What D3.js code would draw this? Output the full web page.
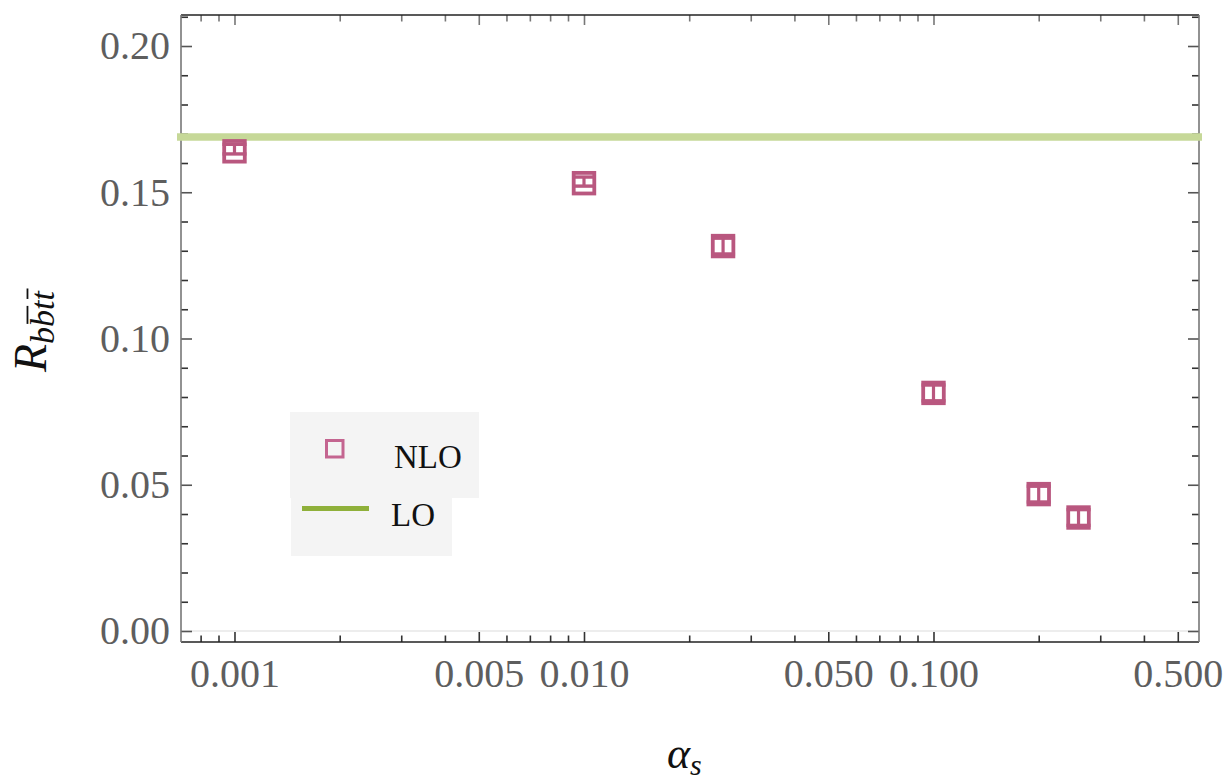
<!DOCTYPE html>
<html>
<head>
<meta charset="utf-8">
<script src="https://cdn.jsdelivr.net/npm/d3@7"></script>
<style>
  body { margin: 0; background: #fff; }
  svg { display: block; }
</style>
</head>
<body>
<svg id="chart" width="1231" height="781"></svg>
<script>
// ---- data ----
const alphaS   = [0.001, 0.010, 0.025, 0.100, 0.200, 0.260];
const rNLO     = [0.1640, 0.1531, 0.1316, 0.0814, 0.0468, 0.0388];
const rNLOhi   = [0.1664, 0.1552, 0.1343, 0.0841, 0.0495, 0.0415];
const rNLOlo   = [0.1631, 0.1521, 0.1289, 0.0787, 0.0441, 0.0361];
const rLO      = 0.1689;
const xMajorTicks = [0.001, 0.005, 0.010, 0.050, 0.100, 0.500];
const xMajorLabels = ["0.001", "0.005", "0.010", "0.050", "0.100", "0.500"];
const xMinorTicks = [0.0008, 0.0009, 0.002, 0.003, 0.004, 0.006, 0.007, 0.008, 0.009,
                     0.02, 0.03, 0.04, 0.06, 0.07, 0.08, 0.09, 0.2, 0.3, 0.4];
const yMajorTicks = [0.00, 0.05, 0.10, 0.15, 0.20];
const yMajorLabels = ["0.00", "0.05", "0.10", "0.15", "0.20"];
const yMinorTicks = [0.01, 0.02, 0.03, 0.04, 0.06, 0.07, 0.08, 0.09, 0.11, 0.12, 0.13, 0.14,
                     0.16, 0.17, 0.18, 0.19, 0.21];
const legendLabels = ["NLO", "LO"];

// ---- layout ----
const L = 181, R = 1199, T = 15, B = 642;
const svg = d3.select("#chart");
const x = d3.scaleLog().domain([7.03e-4, 0.575]).range([L, R]);
const y = d3.scaleLinear().domain([-0.00376, 0.2106]).range([B, T]);

const pink = "#b9577f";
const serif = "'Liberation Serif', 'DejaVu Serif', serif";

// zero gridline
svg.append("line").attr("x1", L).attr("x2", R).attr("y1", y(0)).attr("y2", y(0))
  .attr("stroke", "#dcdcdc").attr("stroke-width", 1.2);

function styleAxis(g, col) {
  g.select(".domain").remove();
  g.selectAll(".tick line").attr("stroke", col).attr("stroke-width", 1.6);
  g.selectAll(".tick text").attr("fill", "#5e5e5e").attr("font-family", serif).attr("font-size", 40);
}
// bottom
const gB = svg.append("g").attr("transform", `translate(0,${B})`)
  .call(d3.axisBottom(x).tickValues(xMajorTicks).tickFormat((d, i) => xMajorLabels[i]).tickSize(-10).tickPadding(17));
styleAxis(gB, "#333");
const gBm = svg.append("g").attr("transform", `translate(0,${B})`)
  .call(d3.axisBottom(x).tickValues(xMinorTicks).tickFormat("").tickSize(-6.5));
styleAxis(gBm, "#333");
// top
const gT = svg.append("g").attr("transform", `translate(0,${T})`)
  .call(d3.axisTop(x).tickValues(xMajorTicks).tickFormat("").tickSize(-10));
styleAxis(gT, "#777");
const gTm = svg.append("g").attr("transform", `translate(0,${T})`)
  .call(d3.axisTop(x).tickValues(xMinorTicks).tickFormat("").tickSize(-6.5));
styleAxis(gTm, "#777");
// left
const gL = svg.append("g").attr("transform", `translate(${L},0)`)
  .call(d3.axisLeft(y).tickValues(yMajorTicks).tickFormat((d, i) => yMajorLabels[i]).tickSize(-11).tickPadding(11));
styleAxis(gL, "#555");
const gLm = svg.append("g").attr("transform", `translate(${L},0)`)
  .call(d3.axisLeft(y).tickValues(yMinorTicks).tickFormat("").tickSize(-7));
styleAxis(gLm, "#333");
// right
const gR = svg.append("g").attr("transform", `translate(${R},0)`)
  .call(d3.axisRight(y).tickValues(yMajorTicks).tickFormat("").tickSize(-11));
styleAxis(gR, "#555");
const gRm = svg.append("g").attr("transform", `translate(${R},0)`)
  .call(d3.axisRight(y).tickValues(yMinorTicks).tickFormat("").tickSize(-7));
styleAxis(gRm, "#333");

// frame
svg.append("line").attr("x1", L).attr("x2", R).attr("y1", T).attr("y2", T).attr("stroke", "#222").attr("stroke-width", 1.6);
svg.append("line").attr("x1", L).attr("x2", R).attr("y1", B).attr("y2", B).attr("stroke", "#222").attr("stroke-width", 1.6);
svg.append("line").attr("x1", L).attr("x2", L).attr("y1", T).attr("y2", B).attr("stroke", "#777").attr("stroke-width", 1.6);
svg.append("line").attr("x1", R).attr("x2", R).attr("y1", T).attr("y2", B).attr("stroke", "#777").attr("stroke-width", 1.6);

// LO line
svg.append("line").attr("x1", L - 4).attr("x2", R + 3).attr("y1", y(rLO)).attr("y2", y(rLO))
  .attr("stroke", "#c6d898").attr("stroke-width", 7.5);

// NLO points
const half = 10.3, capHalf = 12;
const pts = svg.append("g").selectAll("g").data(alphaS).join("g")
  .attr("transform", (d, i) => `translate(${x(d)},0)`);
pts.append("rect")
  .attr("x", -half).attr("y", (d, i) => y(rNLO[i]) - half)
  .attr("width", 2 * half).attr("height", 2 * half)
  .attr("fill", "none").attr("stroke", pink).attr("stroke-width", 3.8);
pts.append("line").attr("x1", 0).attr("x2", 0)
  .attr("y1", (d, i) => y(rNLOhi[i])).attr("y2", (d, i) => y(rNLOlo[i]))
  .attr("stroke", pink).attr("stroke-width", 3.2);
pts.append("line").attr("x1", -capHalf).attr("x2", capHalf)
  .attr("y1", (d, i) => y(rNLOhi[i])).attr("y2", (d, i) => y(rNLOhi[i]))
  .attr("stroke", pink).attr("stroke-width", 3.4);
pts.append("line").attr("x1", -capHalf).attr("x2", capHalf)
  .attr("y1", (d, i) => y(rNLOlo[i])).attr("y2", (d, i) => y(rNLOlo[i]))
  .attr("stroke", pink).attr("stroke-width", 3.4);

// legend
const lg = svg.append("g");
lg.append("rect").attr("x", 290).attr("y", 412).attr("width", 189).attr("height", 86).attr("fill", "#f4f4f4");
lg.append("rect").attr("x", 291).attr("y", 497).attr("width", 161).attr("height", 59).attr("fill", "#f4f4f4");
lg.append("rect").attr("x", 326.5).attr("y", 440.5).attr("width", 16.5).attr("height", 16.5)
  .attr("fill", "none").attr("stroke", "#c46590").attr("stroke-width", 3);
lg.append("text").attr("x", 394).attr("y", 468).text(legendLabels[0])
  .attr("font-family", serif).attr("font-size", 33).attr("fill", "#111");
lg.append("line").attr("x1", 302).attr("x2", 369).attr("y1", 508.5).attr("y2", 508.5)
  .attr("stroke", "#8fb03a").attr("stroke-width", 5);
lg.append("text").attr("x", 391).attr("y", 526).text(legendLabels[1])
  .attr("font-family", serif).attr("font-size", 33).attr("fill", "#111");

// axis titles
const xt = svg.append("text").attr("x", 667).attr("y", 768)
  .attr("font-family", serif).attr("font-style", "italic").attr("font-size", 44).attr("fill", "#111");
xt.append("tspan").text("α");
xt.append("tspan").text("s").attr("font-size", 30).attr("dy", 7);

const ytg = svg.append("g").attr("transform", "translate(46,372) rotate(-90)");
const yt = ytg.append("text")
  .attr("font-family", serif).attr("font-style", "italic").attr("font-size", 46).attr("fill", "#111");
yt.append("tspan").text("R");
yt.append("tspan").text("bbtt").attr("font-size", 34).attr("dy", 8);
// overbars on 2nd b and 2nd t
const tn = yt.node();
[[2, 3], [4, 1.5]].forEach(([ci, sh]) => {
  const s = tn.getStartPositionOfChar(ci), e = tn.getEndPositionOfChar(ci);
  const yy = s.y - 34 * 0.78;
  ytg.append("line").attr("x1", s.x + sh).attr("x2", e.x + sh + 1).attr("y1", yy).attr("y2", yy)
    .attr("stroke", "#111").attr("stroke-width", 1.8);
});
</script>
</body>
</html>
